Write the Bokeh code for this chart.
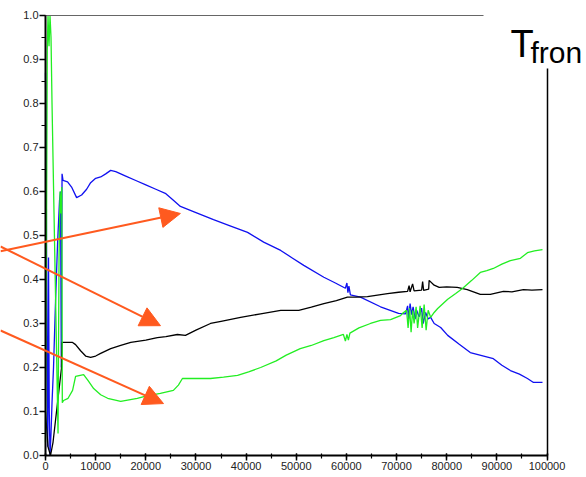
from bokeh.plotting import figure
from bokeh.models import (Range1d, LinearAxis, FixedTicker, SingleIntervalTicker,
                          NumeralTickFormatter, Arrow, NormalHead, Label)
from bokeh.embed import file_html
from bokeh.resources import INLINE

# ---------------- data ----------------
blue_x = [0, 150, 300, 450, 600, 750, 900, 1100, 1300, 1600,
          2000, 2400, 2800, 3000, 3150, 3300, 3500, 4400, 5200, 6200,
          7200, 8200, 9000, 10000, 11000, 12000, 13000, 14000, 16000, 18000,
          20000, 22000, 24000, 25500, 26900, 30000, 33500, 36800, 40300, 43500,
          46900, 49200, 51500, 55500, 57800, 59800, 60100, 60300, 60500, 60800,
          62800, 66800, 70400, 71800, 72200, 72400, 72700, 73000, 73300, 73700,
          74000, 74500, 75000, 75300, 75800, 76300, 76800, 77500, 78800, 80200,
          82500, 84700, 87000, 89300, 91000, 92700, 94500, 96100, 97300, 99100]
blue_y = [0.87, 0.64, 0.2, 0.02, 0.45, 0.1, 0.0, 0.05, 0.12, 0.2,
          0.35, 0.48, 0.58, 0.6, 0.2, 0.64, 0.625, 0.622, 0.61, 0.586,
          0.592, 0.605, 0.62, 0.63, 0.633, 0.64, 0.648, 0.645, 0.635, 0.625,
          0.615, 0.605, 0.595, 0.58, 0.566, 0.552, 0.536, 0.522, 0.507, 0.485,
          0.466, 0.449, 0.432, 0.405, 0.392, 0.38, 0.392, 0.37, 0.385, 0.365,
          0.36, 0.338, 0.323, 0.322, 0.34, 0.31, 0.345, 0.32, 0.338, 0.31,
          0.33, 0.315, 0.335, 0.3, 0.325, 0.31, 0.314, 0.3, 0.291, 0.273,
          0.253, 0.234, 0.227, 0.22, 0.205, 0.193, 0.185, 0.175, 0.166, 0.166]

black_x = [0, 500, 1000, 1500, 2000, 2500, 3000, 3200, 3300, 4000,
           5400, 6000, 7000, 8000, 9000, 10000, 11000, 13000, 15000, 17000,
           20000, 22300, 24000, 26300, 27900, 30000, 32900, 35000, 38900, 42900,
           46900, 50500, 53000, 55500, 58000, 60200, 62000, 64200, 68200, 70400,
           72200, 72500, 72700, 73200, 73500, 75000, 75200, 75400, 76400, 76500,
           77500, 78500, 80000, 82100, 84100, 86700, 88700, 91300, 93000, 95300,
           97000, 99100]
black_y = [0.1, 0.02, 0.0, 0.03, 0.08, 0.13, 0.18, 0.2, 0.257, 0.257,
           0.257, 0.252, 0.238, 0.226, 0.223, 0.226, 0.232, 0.243, 0.25, 0.257,
           0.262, 0.268, 0.27, 0.275, 0.273, 0.285, 0.3, 0.305, 0.314, 0.322,
           0.33, 0.33, 0.337, 0.345, 0.352, 0.36, 0.36, 0.361, 0.368, 0.371,
           0.373, 0.386, 0.372, 0.39, 0.374, 0.376, 0.395, 0.375, 0.378, 0.398,
           0.387, 0.382, 0.383, 0.382, 0.377, 0.366, 0.366, 0.373, 0.372, 0.377,
           0.376, 0.377]

green_x = [0, 200, 350, 500, 700, 900, 1100, 1300, 1700, 2100,
           2500, 2700, 2900, 3100, 3250, 3350, 3600, 4500, 5400, 6000,
           7600, 8500, 9600, 11000, 12400, 15000, 18300, 20000, 22900, 25500,
           26500, 27300, 30000, 32900, 35500, 38300, 40500, 42900, 46000, 48000,
           50800, 53000, 55500, 57500, 59400, 59800, 60100, 60400, 60700, 62500,
           64800, 66800, 68800, 70800, 71200, 72000, 72300, 72600, 72900, 73200,
           73500, 73900, 74200, 74700, 75100, 75500, 75900, 76300, 76800, 77500,
           78200, 80200, 81800, 83200, 85000, 86700, 88000, 89300, 91000, 92700,
           94700, 96100, 97500, 99100]
green_y = [0.03, 0.5, 0.92, 1.0, 0.93, 1.0, 0.95, 0.8, 0.55, 0.3,
           0.05, 0.45, 0.6, 0.55, 0.61, 0.12, 0.125, 0.13, 0.148, 0.18,
           0.184, 0.17, 0.152, 0.138, 0.13, 0.123, 0.13, 0.135, 0.141, 0.148,
           0.16, 0.175, 0.175, 0.175, 0.178, 0.182, 0.19, 0.2, 0.215, 0.228,
           0.243, 0.25, 0.261, 0.268, 0.275, 0.26, 0.275, 0.262, 0.278, 0.29,
           0.3, 0.307, 0.309, 0.318, 0.323, 0.33, 0.29, 0.335, 0.28, 0.33,
           0.30, 0.338, 0.29, 0.34, 0.29, 0.343, 0.285, 0.33, 0.314, 0.325,
           0.334, 0.355, 0.368, 0.38, 0.398, 0.416, 0.42, 0.425, 0.435, 0.443,
           0.448, 0.461, 0.465, 0.468]

x_ticks_interval = 10000
y_ticks_interval = 0.1
x_axis_span = (0, 100000)
y_axis_span = (0, 1.0)
title_main = "T"
title_sub = "fron"

# ---------------- figure ----------------
# frame covers the whole canvas; axes are pinned inside with fixed_location
p = figure(width=586, height=477, output_backend="svg", toolbar_location=None,
           x_range=Range1d(-8973, 107875), y_range=Range1d(-0.05, 1.034),
           x_axis_location=None, y_axis_location=None,
           min_border=0, min_border_left=0, min_border_right=0,
           min_border_top=0, min_border_bottom=0)
p.outline_line_color = None
p.background_fill_color = "white"
p.border_fill_color = "white"
p.xgrid.visible = False
p.ygrid.visible = False

tick_font = "Liberation Sans"


def style_axis(ax):
    ax.axis_line_width = 2
    ax.axis_line_color = "black"
    ax.major_tick_line_color = "black"
    ax.minor_tick_line_color = "black"
    ax.major_tick_line_width = 1.5
    ax.minor_tick_line_width = 1.2
    ax.major_label_text_font = tick_font
    ax.major_label_text_font_size = "11px"
    ax.major_label_text_color = "#222222"


xaxis = LinearAxis(ticker=SingleIntervalTicker(interval=x_ticks_interval, num_minor_ticks=2),
                   formatter=NumeralTickFormatter(format="0"),
                   fixed_location=0, bounds=x_axis_span)
style_axis(xaxis)
xaxis.major_tick_in = 2
xaxis.major_tick_out = 5
xaxis.minor_tick_in = 2
xaxis.minor_tick_out = 3
xaxis.major_label_standoff = 2
p.add_layout(xaxis, "below")

yaxis = LinearAxis(ticker=SingleIntervalTicker(interval=y_ticks_interval, num_minor_ticks=2),
                   formatter=NumeralTickFormatter(format="0.0"),
                   fixed_location=0, bounds=y_axis_span)
style_axis(yaxis)
yaxis.major_tick_in = 0
yaxis.major_tick_out = 6
yaxis.minor_tick_in = 0
yaxis.minor_tick_out = 4
yaxis.major_label_standoff = 1
p.add_layout(yaxis, "left")

top_axis = LinearAxis(ticker=FixedTicker(ticks=[]), bounds=(0, 87300),
                      fixed_location=1.0,
                      axis_line_color="#666666", axis_line_width=1.2,
                      major_tick_line_color=None, minor_tick_line_color=None,
                      major_label_text_font_size="0px")
p.add_layout(top_axis, "above")
right_axis = LinearAxis(ticker=FixedTicker(ticks=[]), bounds=(0, 0.88),
                        fixed_location=100000,
                        axis_line_color="black", axis_line_width=1.5,
                        major_tick_line_color=None, minor_tick_line_color=None,
                        major_label_text_font_size="0px")
p.add_layout(right_axis, "right")

p.line(blue_x, blue_y, line_color="#1010F0", line_width=1.3)
p.line(black_x, black_y, line_color="black", line_width=1.3)
p.line(green_x, green_y, line_color="#22EE22", line_width=1.3)

orange = "#FF5A1F"
arrows = [(-8970, 0.464, 26900, 0.55),
          (-8970, 0.475, 22930, 0.295),
          (-8970, 0.284, 23530, 0.118)]
for xs, ys, xe, ye in arrows:
    p.add_layout(Arrow(x_start=xs, y_start=ys, x_end=xe, y_end=ye,
                       line_color=orange, line_width=2,
                       end=NormalHead(size=20, fill_color=orange, line_color=orange)))

p.add_layout(Label(x=92720, y=0.935, text=title_main, text_font="Liberation Sans",
                   text_font_size="38px", text_color="black",
                   text_baseline="alphabetic"))
p.add_layout(Label(x=96710, y=0.916, text=title_sub, text_font="Liberation Sans",
                   text_font_size="30px", text_color="black",
                   text_baseline="alphabetic"))

open("out.html", "w").write(file_html(p, INLINE))
